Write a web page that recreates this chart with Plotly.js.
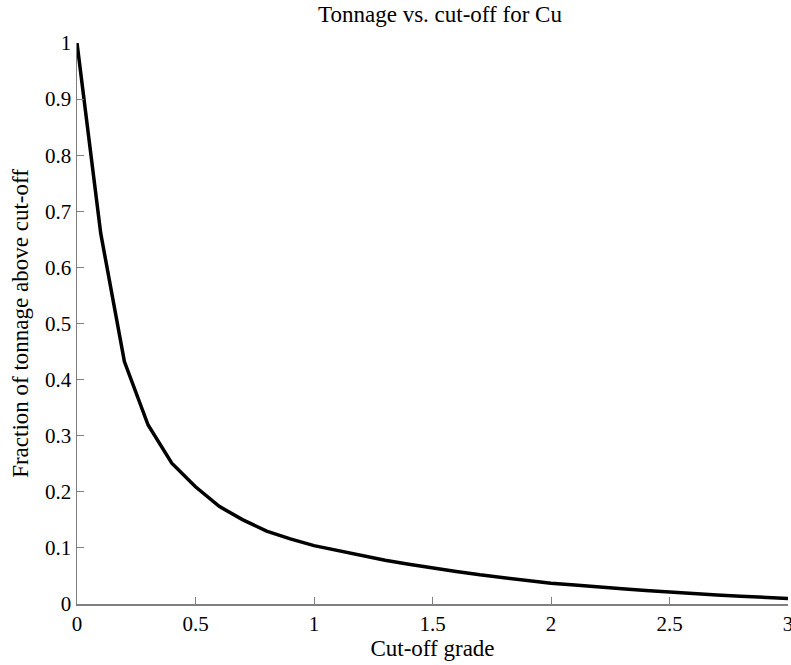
<!DOCTYPE html>
<html><head><meta charset="utf-8">
<script src="https://cdn.plot.ly/plotly-3.0.1.min.js"></script>
<style>html,body{margin:0;padding:0;background:#fff}</style>
</head><body><div id="chart" style="width:791px;height:665px"></div>
<script>
const cutoff = [0,0.1,0.2,0.3,0.4,0.5,0.6,0.7,0.8,0.9,1.0,1.1,1.2,1.3,1.4,1.5,1.6,1.7,1.8,1.9,2.0,2.1,2.2,2.3,2.4,2.5,2.6,2.7,2.8,2.9,3.0];
const fraction = [1.0,0.661,0.432,0.319,0.251,0.209,0.174,0.150,0.130,0.116,0.104,0.095,0.086,0.078,0.071,0.064,0.058,0.052,0.047,0.042,0.037,0.034,0.030,0.027,0.024,0.021,0.018,0.016,0.014,0.012,0.010];
const xTicks = [0,0.5,1,1.5,2,2.5,3];
const xTickText = ['0','0.5','1','1.5','2','2.5','3'];
const yTicks = [0,0.1,0.2,0.3,0.4,0.5,0.6,0.7,0.8,0.9,1];
const yTickText = ['0','0.1','0.2','0.3','0.4','0.5','0.6','0.7','0.8','0.9','1'];

const fam = 'Liberation Serif, serif';
Plotly.newPlot('chart', [{
  x: cutoff, y: fraction, mode:'lines', type:'scatter',
  line:{color:'#000', width:3.5}
}], {
  width:791, height:665,
  margin:{l:77, r:3, t:43, b:61},
  paper_bgcolor:'#fff', plot_bgcolor:'#fff',
  font:{family:fam, size:21, color:'#000'},
  showlegend:false,
  title:{text:'Tonnage vs. cut-off for Cu', font:{family:fam, size:23, color:'#000'}, x:0.5105, xanchor:'center', y:0.979, yanchor:'middle', xref:'paper'},
  xaxis:{range:[0,3], tickvals:xTicks, ticktext:xTickText, ticks:'inside', ticklen:7, tickcolor:'#808080',
    showline:true, linecolor:'#808080', linewidth:1.5, showgrid:false, zeroline:false, automargin:false,
    ticklabeloverflow:'allow',
    tickfont:{family:fam, size:21, color:'#000'},
    title:{text:'Cut-off grade', font:{family:fam, size:23, color:'#000'}, standoff:3}},
  yaxis:{range:[0,1], tickvals:yTicks, ticktext:yTickText, ticks:'inside', ticklen:7, tickcolor:'#808080',
    showline:true, linecolor:'#808080', linewidth:1.5, showgrid:false, zeroline:false, automargin:false,
    ticklabeloverflow:'allow',
    tickfont:{family:fam, size:21, color:'#000'},
    title:{text:'Fraction of tonnage above cut-off', font:{family:fam, size:23, color:'#000'}, standoff:10}}
}, {displayModeBar:false, staticPlot:true});
</script></body></html>
